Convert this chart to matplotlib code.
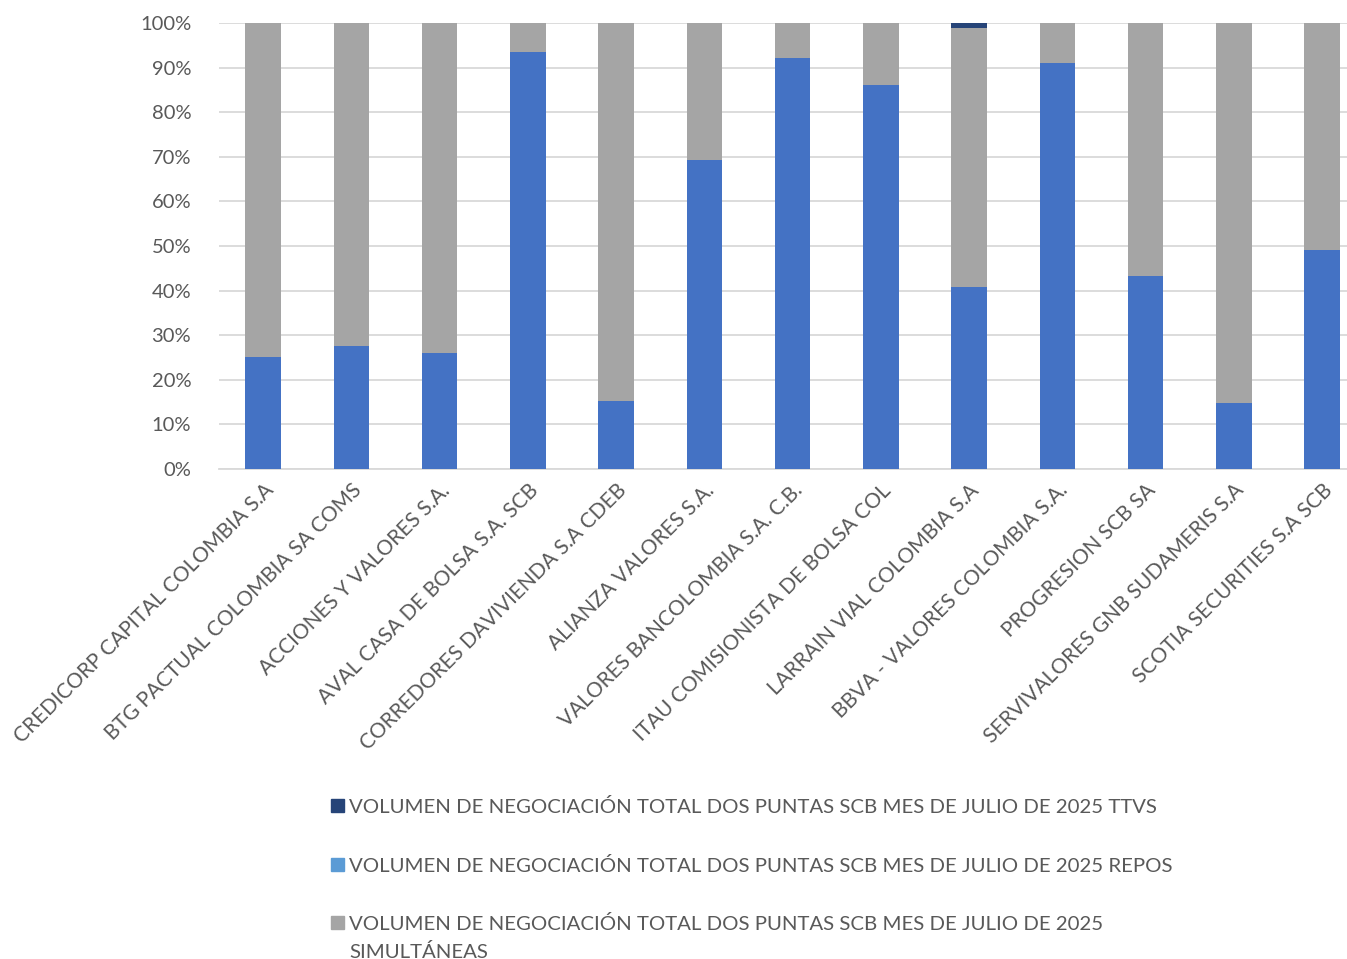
import matplotlib
matplotlib.use("Agg")
import matplotlib.pyplot as plt
from matplotlib.patches import Rectangle
import numpy as np

categories = ["CREDICORP CAPITAL COLOMBIA S.A", "BTG PACTUAL COLOMBIA SA COMS",
              "ACCIONES Y VALORES S.A.", "AVAL CASA DE BOLSA S.A. SCB",
              "CORREDORES DAVIVIENDA S.A CDEB", "ALIANZA VALORES S.A.",
              "VALORES BANCOLOMBIA S.A. C.B.", "ITAU COMISIONISTA DE BOLSA COL",
              "LARRAIN VIAL COLOMBIA S.A", "BBVA - VALORES COLOMBIA S.A.",
              "PROGRESION SCB SA", "SERVIVALORES GNB SUDAMERIS S.A",
              "SCOTIA SECURITIES S.A SCB"]
compraventa = [25.1, 27.6, 26.0, 93.5, 15.2, 69.3, 92.2, 86.1, 40.8, 91.0, 43.3, 14.8, 49.1]
repos = [0, 0, 0, 0, 0, 0, 0, 0, 0, 0, 0, 0, 0]
ttvs = [0.1, 0, 0, 0, 0, 0, 0, 0, 1.2, 0, 0, 0, 0]
simultaneas = [100 - c - r - t for c, r, t in zip(compraventa, repos, ttvs)]

legend_labels = ["VOLUMEN DE NEGOCIACIÓN TOTAL DOS PUNTAS SCB MES DE JULIO DE 2025 TTVS",
                 "VOLUMEN DE NEGOCIACIÓN TOTAL DOS PUNTAS SCB MES DE JULIO DE 2025 REPOS",
                 "VOLUMEN DE NEGOCIACIÓN TOTAL DOS PUNTAS SCB MES DE JULIO DE 2025\nSIMULTÁNEAS"]

c_blue = "#4472C4"
c_repos = "#5B9BD5"
c_gray = "#A5A5A5"
c_ttvs = "#264478"
txt = "#595959"

plt.rcParams['font.family'] = ['Lato', 'DejaVu Sans']

fig = plt.figure(figsize=(13.47, 9.59), dpi=100)
ax = fig.add_axes([219/1347, 1-469/959, (13*88.25)/1347, (469-23)/959])

x = np.arange(len(categories))
w = 0.4
b1 = np.array(compraventa)
ax.bar(x, compraventa, w, color=c_blue, zorder=3)
ax.bar(x, repos, w, bottom=b1, color=c_repos, zorder=3)
b2 = b1 + np.array(repos)
ax.bar(x, simultaneas, w, bottom=b2, color=c_gray, zorder=3)
b3 = b2 + np.array(simultaneas)
ax.bar(x, ttvs, w, bottom=b3, color=c_ttvs, zorder=3)

ax.set_xlim(-0.5, len(categories) - 0.5)
ax.set_ylim(0, 100)
ax.set_yticks(np.arange(0, 101, 10))
ax.set_yticklabels([f"{v}%" for v in range(0, 101, 10)])
ax.yaxis.grid(True, color="#D9D9D9", linewidth=1.3, zorder=0)
ax.set_axisbelow(True)
for s in ["top", "right", "left"]:
    ax.spines[s].set_visible(False)
ax.spines["bottom"].set_color("#D9D9D9")
ax.spines["bottom"].set_linewidth(1.3)
ax.tick_params(axis="y", length=0, pad=20, labelsize=14.5, labelcolor=txt)
ax.tick_params(axis="x", length=0, pad=8, labelsize=15, labelcolor=txt)
ax.set_xticks(x)
ax.set_xticklabels(categories, rotation=45, ha="right", rotation_mode="anchor")

# legend
ys = [805, 864, 922]
for lab, col, yp in zip(legend_labels, [c_ttvs, c_repos, c_gray], ys):
    fig.patches.append(Rectangle((331/1347, 1-(yp+7)/959), 13/1347, 13/959,
                                 transform=fig.transFigure, color=col))
    fig.text(349/1347, 1-(yp-7)/959, lab, fontsize=14.7, color=txt, va="top",
             ha="left", linespacing=1.65)

fig.savefig("out.png", dpi=100)
